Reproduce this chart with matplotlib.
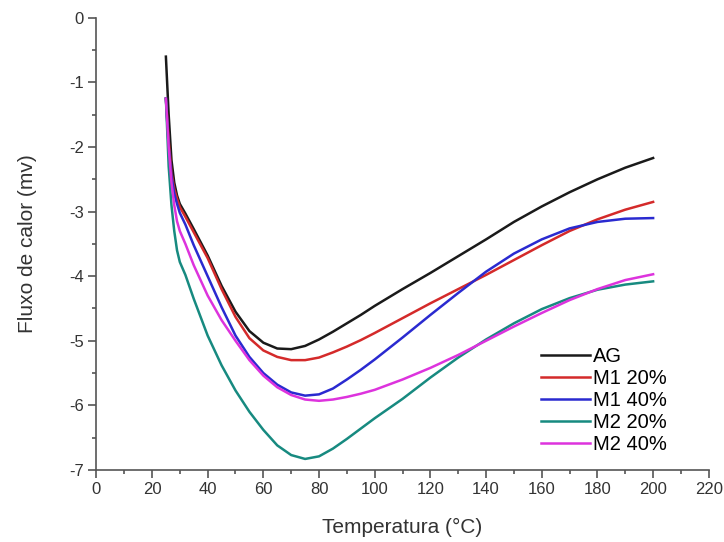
import matplotlib
matplotlib.use("Agg")
import matplotlib.pyplot as plt
from matplotlib.ticker import MultipleLocator

plt.rcParams['font.family'] = ['Liberation Sans', 'DejaVu Sans']
plt.rcParams['axes.unicode_minus'] = False

# temperatures (C)
temp = [25, 26, 27, 28, 29, 30, 32, 35, 40, 45, 50, 55, 60, 65, 70, 75, 80, 85, 90,
        95, 100, 110, 120, 130, 140, 150, 160, 170, 180, 190, 200]

ag = [-0.6, -1.5, -2.2, -2.55, -2.75, -2.88, -3.03, -3.27, -3.68, -4.15, -4.55, -4.85,
      -5.03, -5.12, -5.13, -5.08, -4.98, -4.86, -4.73, -4.6, -4.46, -4.2, -3.95,
      -3.69, -3.43, -3.16, -2.92, -2.7, -2.5, -2.32, -2.17]
m1_20 = [-1.25, -1.9, -2.4, -2.65, -2.8, -2.93, -3.08, -3.32, -3.72, -4.2, -4.63, -4.96,
         -5.15, -5.25, -5.3, -5.3, -5.26, -5.18, -5.09, -4.99, -4.88, -4.65, -4.42,
         -4.2, -3.98, -3.75, -3.52, -3.3, -3.12, -2.97, -2.85]
m1_40 = [-1.25, -2.0, -2.45, -2.72, -2.88, -3.02, -3.2, -3.52, -4.0, -4.48, -4.92, -5.25,
         -5.5, -5.68, -5.8, -5.85, -5.83, -5.74, -5.6, -5.45, -5.29, -4.95, -4.6,
         -4.26, -3.93, -3.65, -3.43, -3.26, -3.16, -3.11, -3.1]
m2_20 = [-1.25, -2.3, -2.9, -3.3, -3.6, -3.78, -3.98, -4.35, -4.92, -5.38, -5.77, -6.1,
         -6.38, -6.62, -6.77, -6.83, -6.79, -6.67, -6.52, -6.36, -6.2, -5.9, -5.57,
         -5.26, -4.98, -4.73, -4.51, -4.34, -4.21, -4.13, -4.08]
m2_40 = [-1.25, -2.0, -2.55, -2.9, -3.15, -3.3, -3.5, -3.83, -4.3, -4.68, -5.0, -5.3,
         -5.54, -5.72, -5.84, -5.91, -5.93, -5.91, -5.87, -5.82, -5.76, -5.6, -5.42,
         -5.22, -5.0, -4.78, -4.57, -4.37, -4.2, -4.06, -3.97]

series = [ag, m1_20, m1_40, m2_20, m2_40]
labels = ['AG', 'M1 20%', 'M1 40%', 'M2 20%', 'M2 40%']
colors = ['#1a1a1a', '#d42a2a', '#2a2ad0', '#178a80', '#dd33dd']

fig = plt.figure(figsize=(7.24, 5.42), dpi=100)
ax = fig.add_axes([0.133, 0.133, 0.846, 0.834])

for y, lab, c in zip(series, labels, colors):
    ax.plot(temp, y, color=c, lw=1.8, label=lab, solid_joinstyle='round')

ax.set_xlim(0, 220)
ax.set_ylim(-7, 0)
ax.xaxis.set_major_locator(MultipleLocator(20))
ax.xaxis.set_minor_locator(MultipleLocator(10))
ax.yaxis.set_major_locator(MultipleLocator(1))
ax.yaxis.set_minor_locator(MultipleLocator(0.5))
ax.spines['top'].set_visible(False)
ax.spines['right'].set_visible(False)
for s in ['left', 'bottom']:
    ax.spines[s].set_color('#555555')
    ax.spines[s].set_linewidth(1.2)
ax.tick_params(which='major', direction='out', length=6, width=1.2, color='#555555',
               labelsize=12, labelcolor='#333333', pad=3)
ax.tick_params(which='minor', direction='out', length=3, width=1.2, color='#555555')

ax.set_xlabel('Temperatura (°C)', fontsize=15, color='#333333', labelpad=15)
ax.set_ylabel('Fluxo de calor (mv)', fontsize=15, color='#333333', labelpad=23)

ax.legend(loc='lower right', bbox_to_anchor=(0.961, -0.005), frameon=False,
          fontsize=14.5, handlelength=2.45, handletextpad=0.15, labelspacing=0.15)

fig.savefig('out.png', dpi=100)
